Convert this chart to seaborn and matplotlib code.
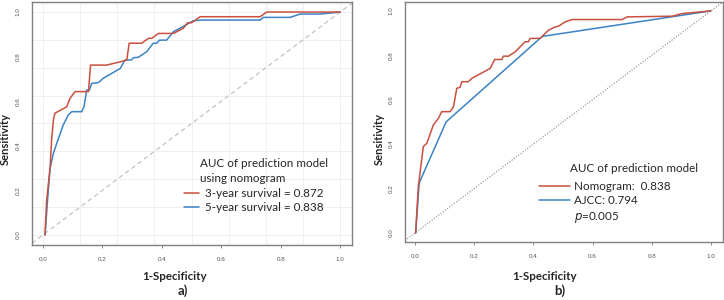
import matplotlib
matplotlib.use("Agg")
import matplotlib.pyplot as plt
from matplotlib.lines import Line2D
import numpy as np
import pandas as pd
import seaborn as sns

# panel a: nomogram ROC, 3-year vs 5-year survival
a3_fpr = [0.007, 0.012, 0.024, 0.029, 0.035, 0.040, 0.080, 0.091, 0.108, 0.153, 0.160,
          0.214, 0.270, 0.282, 0.290, 0.332, 0.355, 0.366, 0.388, 0.439, 0.472, 0.487,
          0.500, 0.529, 0.731, 0.753, 1.000]
a3_tpr = [0.000, 0.150, 0.306, 0.426, 0.516, 0.546, 0.575, 0.613, 0.643, 0.643, 0.762,
          0.762, 0.780, 0.785, 0.860, 0.860, 0.882, 0.882, 0.904, 0.904, 0.927, 0.952,
          0.952, 0.979, 0.979, 1.000, 1.000]
a5_fpr = [0.007, 0.015, 0.024, 0.035, 0.046, 0.068, 0.085, 0.097, 0.130, 0.138, 0.147,
          0.156, 0.164, 0.186, 0.203, 0.260, 0.276, 0.298, 0.304, 0.321, 0.349, 0.371,
          0.382, 0.392, 0.416, 0.439, 0.461, 0.506, 0.534, 0.731, 0.742, 0.832, 0.865,
          0.933, 1.000]
a5_tpr = [0.000, 0.150, 0.300, 0.366, 0.410, 0.493, 0.538, 0.553, 0.553, 0.575, 0.650,
          0.650, 0.680, 0.683, 0.703, 0.747, 0.785, 0.785, 0.795, 0.797, 0.822, 0.860,
          0.860, 0.874, 0.874, 0.912, 0.927, 0.961, 0.964, 0.964, 0.976, 0.976, 0.991,
          0.991, 1.000]

# panel b: nomogram vs AJCC staging
bn_fpr = [0.002, 0.011, 0.028, 0.040, 0.062, 0.079, 0.090, 0.119, 0.130, 0.141, 0.152,
          0.158, 0.180, 0.192, 0.254, 0.269, 0.293, 0.299, 0.316, 0.339, 0.372, 0.383,
          0.389, 0.423, 0.451, 0.474, 0.485, 0.508, 0.531, 0.700, 0.717, 0.869, 0.903,
          1.000]
bn_tpr = [0.000, 0.210, 0.389, 0.404, 0.487, 0.516, 0.546, 0.546, 0.569, 0.651, 0.656,
          0.681, 0.681, 0.696, 0.741, 0.781, 0.781, 0.796, 0.796, 0.816, 0.861, 0.861,
          0.876, 0.876, 0.913, 0.928, 0.931, 0.951, 0.961, 0.961, 0.973, 0.976, 0.988,
          1.000]
ajcc_fpr = [0.002, 0.014, 0.105, 0.430, 1.000]
ajcc_tpr = [0.000, 0.225, 0.500, 0.885, 1.000]

ticks = [0.0, 0.2, 0.4, 0.6, 0.8, 1.0]
RED, BLUE = "#C9503F", "#3A83C6"

sns.set_theme(style="white")
plt.rcParams["font.family"] = ["Lato", "DejaVu Sans"]

fig = plt.figure(figsize=(7.24, 3.0), dpi=100)
ax1 = fig.add_axes([32 / 724, 1 - 245 / 300, 320 / 724, 243 / 300])
ax2 = fig.add_axes([405 / 724, 1 - 242 / 300, 318 / 724, 240 / 300])


def style_axes(ax, xlim, ylim, grid):
    ax.set_xlim(*xlim); ax.set_ylim(*ylim)
    ax.set_xticks(ticks); ax.set_yticks(ticks)
    ax.set_xticklabels([f"{t:.1f}" for t in ticks], fontsize=4.5, color="#555555",
                       family="Liberation Sans")
    ax.set_yticklabels([f"{t:.1f}" for t in ticks], fontsize=4.5, color="#555555",
                       family="Liberation Sans", rotation=90, va="center")
    ax.tick_params(axis="x", length=2.5, width=0.6, color="#777777", pad=6, bottom=True)
    ax.tick_params(axis="y", length=0, pad=8, left=True)
    for s in ax.spines.values():
        s.set_color("#808080"); s.set_linewidth(1.0)
    if grid:
        for v in np.arange(0, 1.01, 0.125):
            ax.axvline(v, color="#EDEDED", lw=0.6, zorder=0)
            ax.axhline(v, color="#EDEDED", lw=0.6, zorder=0)
    ax.set_xlabel(""); ax.set_ylabel("")


# ---- panel a
style_axes(ax1, (-0.037, 1.040), (-0.045, 1.045), grid=True)
ax1.axline((0, 0), (1, 1), color="#BBBBBB", lw=0.8, ls=(0, (4, 3)), zorder=1)
df_a3 = pd.DataFrame({"fpr": a3_fpr, "tpr": a3_tpr})
df_a5 = pd.DataFrame({"fpr": a5_fpr, "tpr": a5_tpr})
sns.lineplot(data=df_a5, x="fpr", y="tpr", estimator=None, sort=False, color=BLUE,
             lw=1.1, ax=ax1, zorder=2)
sns.lineplot(data=df_a3, x="fpr", y="tpr", estimator=None, sort=False, color=RED,
             lw=1.1, ax=ax1, zorder=3)
ax1.set_xlabel(""); ax1.set_ylabel("")
ax1.text(0.525, 0.36, "AUC of prediction model\nusing nomogram", transform=ax1.transAxes,
         fontsize=8.4, va="top", ha="left", linespacing=1.45)
ax1.legend(handles=[Line2D([], [], color=RED, lw=1.1), Line2D([], [], color=BLUE, lw=1.1)],
           labels=["3-year survival = 0.872", "5-year survival = 0.838"],
           loc="upper left", bbox_to_anchor=(0.475, 0.235), frameon=False,
           fontsize=8.4, handlelength=1.3, handletextpad=0.5, labelspacing=0.3,
           borderaxespad=0, borderpad=0)

# ---- panel b
style_axes(ax2, (-0.034, 1.041), (-0.041, 1.040), grid=False)
ax2.axline((0, 0), (1, 1), color="#888888", lw=0.8, ls=(0, (1, 1.5)), zorder=1)
df_bn = pd.DataFrame({"fpr": bn_fpr, "tpr": bn_tpr})
df_aj = pd.DataFrame({"fpr": ajcc_fpr, "tpr": ajcc_tpr})
sns.lineplot(data=df_aj, x="fpr", y="tpr", estimator=None, sort=False, color=BLUE,
             lw=1.1, ax=ax2, zorder=2)
sns.lineplot(data=df_bn, x="fpr", y="tpr", estimator=None, sort=False, color=RED,
             lw=1.1, ax=ax2, zorder=3)
ax2.set_xlabel(""); ax2.set_ylabel("")
ax2.text(0.52, 0.33, "AUC of prediction model", transform=ax2.transAxes,
         fontsize=8.4, va="top", ha="left")
ax2.legend(handles=[Line2D([], [], color=RED, lw=1.1), Line2D([], [], color=BLUE, lw=1.1),
                    Line2D([], [], color="none")],
           labels=["Nomogram:  0.838", "AJCC: 0.794", "$\\it{p}$=0.005"],
           loc="upper left", bbox_to_anchor=(0.42, 0.255), frameon=False,
           fontsize=8.4, handlelength=2.7, handletextpad=0.3, labelspacing=0.3,
           borderaxespad=0, borderpad=0)

# outer labels
for xc, yl_x, tag, tag_x in [(175, 5, "a)", 183), (545, 379, "b)", 560)]:
    fig.text(xc / 724, 1 - 277 / 300, "1-Specificity", ha="center", va="center",
             fontsize=8.3, fontweight="bold")
    fig.text(yl_x / 724, 1 - 139 / 300, "Sensitivity", ha="center", va="center",
             rotation=90, fontsize=8.0, fontweight="bold")
    fig.text(tag_x / 724, 1 - 291 / 300, tag, ha="center", va="center",
             fontsize=9.5, fontweight="bold")

fig.savefig("out.png", dpi=100)
